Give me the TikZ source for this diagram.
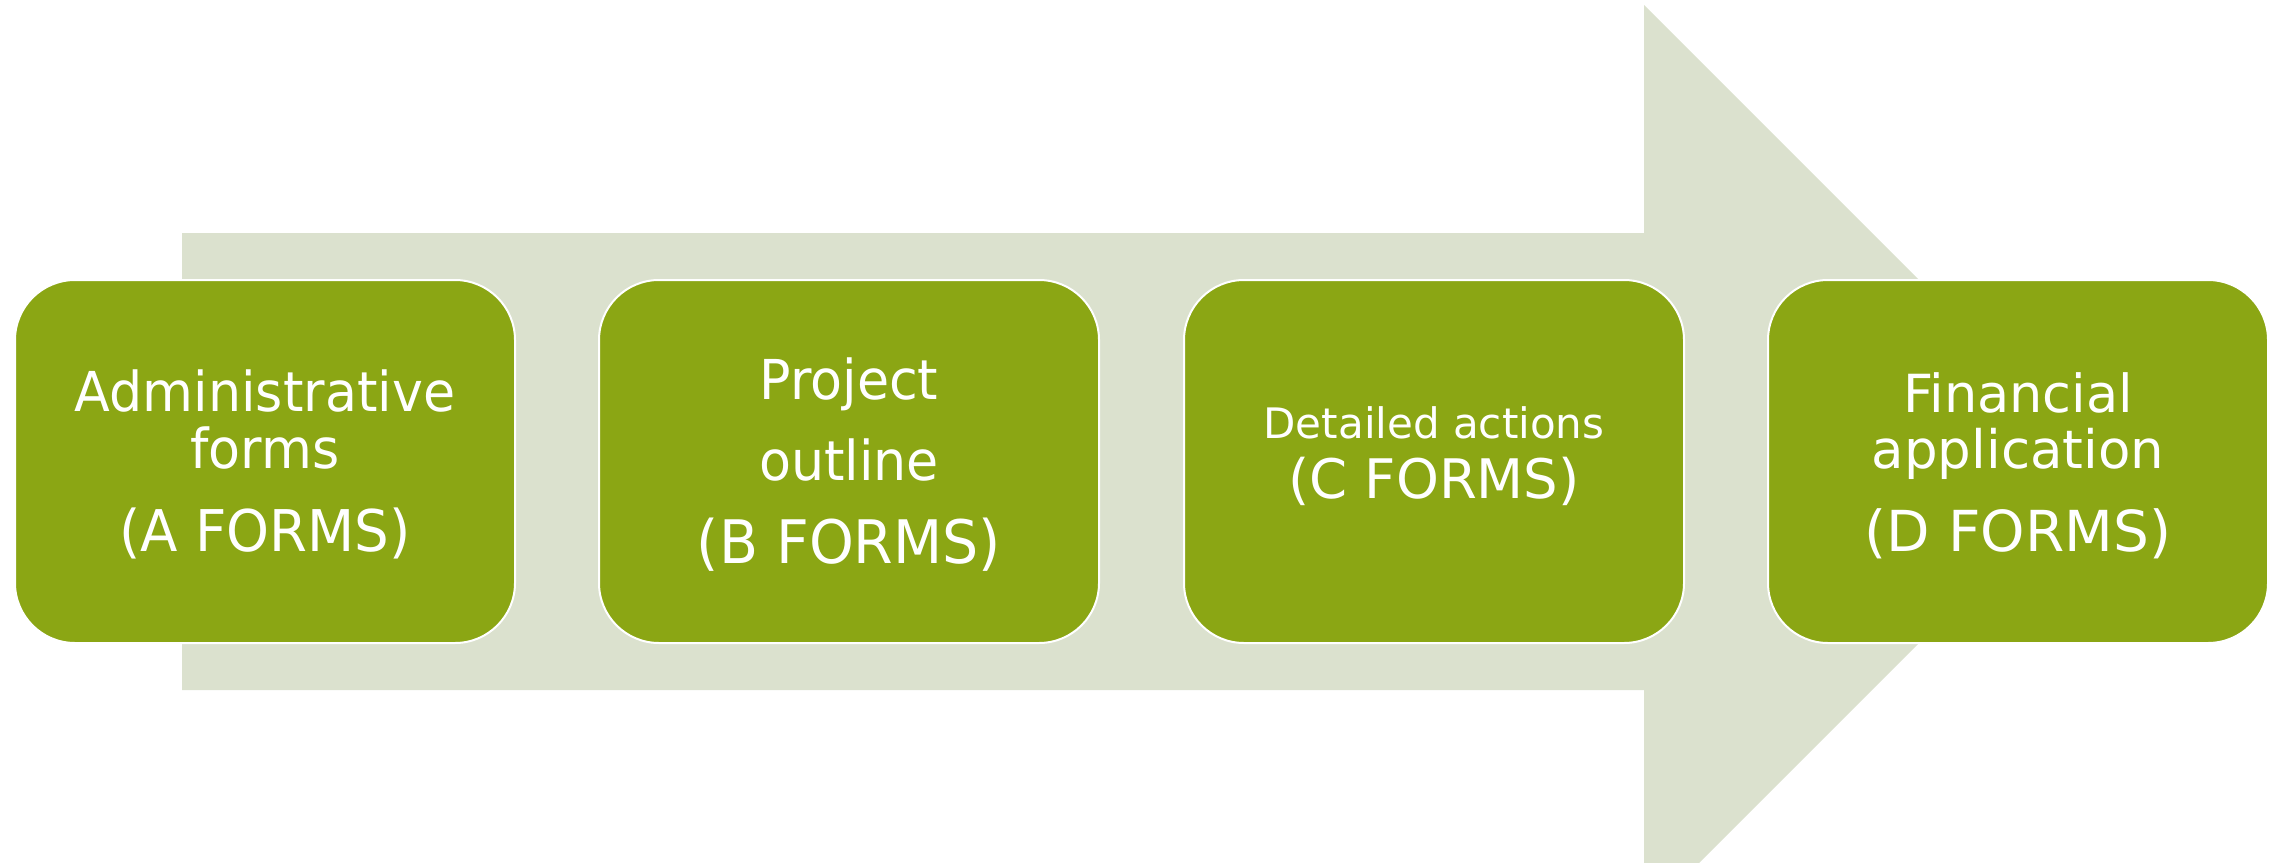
\documentclass[tikz,border=0pt]{standalone}
\usepackage{fontspec}
\setmainfont{DejaVu Sans}
\newfontfamily\tah[FakeStretch=0.95]{DejaVu Sans}
\definecolor{arrowbg}{HTML}{DBE1CE}
\definecolor{boxgreen}{HTML}{8BA614}
\begin{document}
\begin{tikzpicture}[x=1pt,y=-1pt,
  stepbox/.style={draw=white, line width=2pt, fill=boxgreen, rounded corners=60pt,
    minimum width=500pt, minimum height=363pt, inner sep=0pt},
  txt/.style={anchor=base, text=white, inner sep=0pt}]
\useasboundingbox (0,0) rectangle (2280,862);
\clip (0,0) rectangle (2280,862);
% big arrow
\fill[arrowbg] (182,233) -- (1644,233) -- (1644,5) -- (2100.5,461.5) -- (1644,918) -- (1644,690) -- (182,690) -- cycle;
% boxes
\node[stepbox] (b1) at (265,461.5) {};
\node[stepbox] (b2) at (849,461.5) {};
\node[stepbox] (b3) at (1434,461.5) {};
\node[stepbox] (b4) at (2018,461.5) {};
% texts box 1
\node[txt, font=\tah\fontsize{55}{60}\selectfont] (b1a) at (265,411.7) {Administrative};
\node[txt, font=\tah\fontsize{55}{60}\selectfont] (b1b) at (265,468) {forms};
\node[txt, font=\tah\fontsize{57.5}{60}\selectfont] (b1c) at (265,551) {(A FORMS)};
% texts box 2
\node[txt, font=\tah\fontsize{55}{60}\selectfont] (b2a) at (849,399) {Project};
\node[txt, font=\tah\fontsize{55}{60}\selectfont] (b2b) at (849,480) {outline};
\node[txt, font=\tah\fontsize{60}{64}\selectfont] (b2c) at (849,563) {(B FORMS)};
% texts box 3
\node[txt, font=\fontsize{42}{46}\selectfont] (b3a) at (1434,438) {Detailed actions};
\node[txt, font=\fontsize{54.5}{58}\selectfont] (b3b) at (1434,498) {(C FORMS)};
% texts box 4
\node[txt, font=\fontsize{52.5}{56}\selectfont] (b4a) at (2018,412) {Financial};
\node[txt, font=\fontsize{53}{56}\selectfont] (b4b) at (2018,468) {application};
\node[txt, font=\fontsize{56.5}{60}\selectfont] (b4c) at (2018,551) {(D FORMS)};
\end{tikzpicture}
\end{document}
